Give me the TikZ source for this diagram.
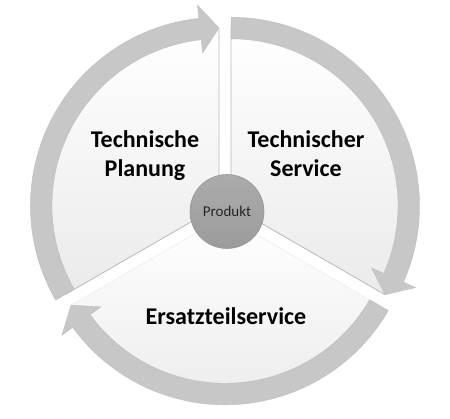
\documentclass[tikz,border=0pt]{standalone}
\usepackage{fontspec}
\setmainfont{Carlito}
\tikzset{
  wedgefill/.style={top color=white, bottom color=gray!16},
  edgeline/.style={draw=gray!55, line width=0.8pt},
  edgelight/.style={draw=gray!12, line width=0.8pt},
  ringarrow/.style={fill=gray!44, draw=gray!52, line width=0.4pt},
  lbl/.style={font=\bfseries\fontsize{24}{29}\selectfont, anchor=base, text=black, inner sep=0pt},
  prodnode/.style={circle, minimum size=74pt, inner sep=0pt, top color=gray!66, bottom color=gray!78, draw=gray!82, line width=0.6pt, font=\fontsize{15}{18}\selectfont, text=black!85}
}
\newcommand\ringarr[2]{%
  \path[ringarrow] (#1:188.5pt) arc[start angle=#1, end angle=#2+6.1, radius=188.5pt]
    -- (#2+6.1:201.75pt) -- (#2:177.75pt) -- (#2+6.1:153.75pt) -- (#2+6.1:167pt)
    arc[start angle=#2+6.1, end angle=#1, radius=167pt] -- cycle;}
\begin{document}
\begin{tikzpicture}[x=1pt, y=1pt]
  \useasboundingbox (0,0) rectangle (450,418);
  \fill[white] (0,0) rectangle (450,418);
  % sector 1: Technische Planung
  \begin{scope}[shift={(218.94,212.2)}]
    \shade[wedgefill] (0,0) -- (90:178pt) arc[start angle=90, end angle=210, radius=178pt] -- cycle;
    \draw[edgeline] (90:178pt) -- (0,0) -- (210:178pt);
  \end{scope}
  % sector 2: Technischer Service
  \begin{scope}[shift={(231.06,212.2)}]
    \shade[wedgefill] (0,0) -- (-30:178pt) arc[start angle=-30, end angle=90, radius=178pt] -- cycle;
    \draw[edgeline] (90:178pt) -- (0,0) -- (-30:178pt);
  \end{scope}
  % sector 3: Ersatzteilservice
  \begin{scope}[shift={(225,201.7)}]
    \shade[wedgefill] (0,0) -- (210:178pt) arc[start angle=210, end angle=330, radius=178pt] -- cycle;
    \draw[edgelight] (210:178pt) -- (0,0) -- (330:178pt);
  \end{scope}
  % ring arrows
  \begin{scope}[shift={(218.94,212.2)}]\ringarr{210}{90}\end{scope}
  \begin{scope}[shift={(231.06,212.2)}]\ringarr{90}{-30}\end{scope}
  \begin{scope}[shift={(225,201.7)}]\ringarr{330}{210}\end{scope}
  % centre
  \node[prodnode] (prod) at (227,206.5) {Produkt};
  % labels
  \node[lbl] (tp1) at (145,270) {Technische};
  \node[lbl] (tp2) at (145,241) {Planung};
  \node[lbl] (ts1) at (306,270) {Technischer};
  \node[lbl] (ts2) at (306,241) {Service};
  \node[lbl] (es) at (226,93) {Ersatzteilservice};
\end{tikzpicture}
\end{document}
